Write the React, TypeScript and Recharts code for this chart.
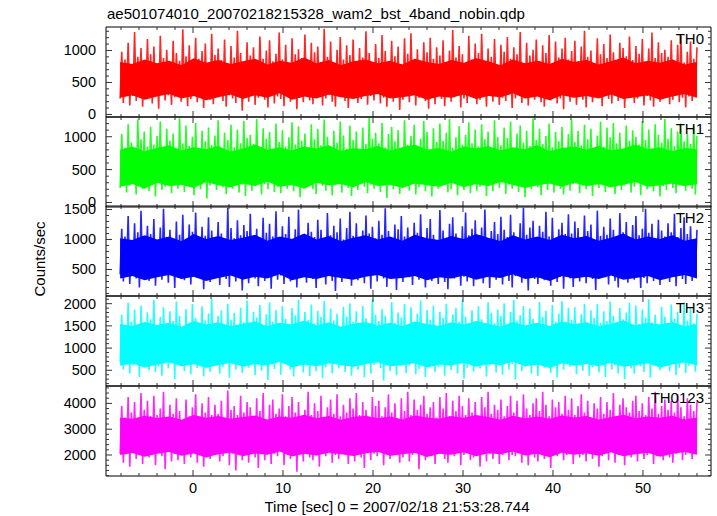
import React from "react";
import { ComposedChart, Line, Area, XAxis, YAxis } from "recharts";

const TITLE = "ae501074010_20070218215328_wam2_bst_4band_nobin.qdp";
const X_LABEL = "Time [sec] 0 = 2007/02/18 21:53:28.744";
const Y_LABEL = "Counts/sec";

// light curve bins run from -8.1 s to 56.0 s
const T_START = -8.1;
const T_END = 56.0;

const X_DOMAIN = [-9.67, 57.56];
const X_MAJOR = [0, 10, 20, 30, 40, 50];
const X_TICKS = [
  -8, -6, -4, -2, 0, 2, 4, 6, 8, 10, 12, 14, 16, 18, 20, 22, 24, 26, 28, 30,
  32, 34, 36, 38, 40, 42, 44, 46, 48, 50, 52, 54, 56,
];

// rate samples, read as alternating dips and spikes
const TH0 = [
  250, 980, 180, 860, 320, 1120, 140, 760, 290, 1290, 210, 900, 380, 1040, 120, 820, 260, 1180, 330, 940,
  170, 1060, 280, 790, 90, 1230, 350, 880, 220, 1010, 300, 720, 150, 1150, 270, 960, 410, 840, 200, 1330,
  310, 910, 130, 1080, 240, 770, 360, 1200, 190, 870, 280, 990, 100, 1110, 330, 800, 230, 1260, 160, 930,
  290, 1030, 370, 850, 210, 1170, 120, 740, 300, 1070, 250, 890, 180, 1310, 340, 960, 60, 810, 270, 1130,
  200, 920, 320, 1050, 150, 780, 260, 1220, 390, 870, 230, 1000, 110, 1160, 310, 830, 170, 950, 280, 1280,
  240, 860, 130, 1090, 350, 760, 200, 1190, 300, 940, 80, 1020, 260, 880, 190, 1250, 330, 790, 220, 1120,
  160, 970, 290, 1060, 370, 820, 140, 1340, 250, 900, 310, 1140, 200, 750, 120, 1010, 280, 1210, 340, 860,
  210, 1080, 100, 930, 270, 1170, 330, 800, 180, 1040, 240, 890, 400, 1300, 150, 960, 290, 770, 220, 1100,
  320, 880, 170, 1240, 260, 990, 120, 830, 350, 1150, 200, 910, 280, 1060, 70, 790, 230, 1190, 300, 950,
  190, 1270, 310, 850, 140, 1020, 260, 760, 380, 1130, 210, 970, 90, 1200, 290, 870, 160, 1050, 330, 920,
  240, 1160, 130, 810, 300, 1000, 200, 1320, 270, 890, 350, 1070, 110, 940, 250, 780, 180, 1230, 320, 860,
  280, 1110, 160, 960, 230, 1260, 340, 820, 120, 1030, 290, 900, 200, 1180, 370, 750, 150, 1090, 260, 980,
  210, 1210, 310, 870, 100, 1050, 250, 940, 330, 1290, 180, 800, 270, 1120, 140, 920, 300, 1010, 230, 1170,
  360, 840, 190, 1080, 120, 960, 280, 1240, 220, 790, 310, 1140, 170, 890, 250, 1030, 80, 1200, 340, 860,
  200, 990, 270, 1150, 150, 830, 320, 1060, 230, 1310, 110, 900, 290, 1000, 190, 770, 350, 1190, 260, 940,
  130, 1100, 300, 880, 240, 1250, 170, 970, 380, 820, 210, 1120, 280, 1040, 100, 910, 260, 1220, 320, 850,
  180, 1070, 250, 950, 340, 1180, 140, 790, 290, 1030, 220, 1280, 120, 880, 310, 1130, 200, 960, 270, 1010,
  350, 900, 160, 1160, 230, 840, 300, 1090, 190, 1230, 260, 810, 110, 980, 280, 1140, 210, 870, 320, 1050,
];

const TH1 = [
  220, 1040, 300, 830, 150, 1190, 260, 910, 350, 770, 120, 1260, 280, 960, 200, 1080, 330, 850, 170, 1150,
  270, 880, 90, 1010, 310, 1230, 190, 790, 240, 1120, 360, 940, 140, 1050, 290, 820, 210, 1280, 320, 900,
  160, 1170, 250, 860, 380, 1000, 110, 1210, 280, 780, 200, 1090, 330, 930, 60, 1140, 260, 870, 300, 1020,
  190, 1250, 340, 800, 230, 1060, 130, 950, 290, 1180, 210, 840, 370, 1110, 150, 900, 270, 1240, 100, 980,
  310, 1030, 180, 890, 250, 1270, 350, 760, 120, 1130, 280, 970, 200, 1070, 330, 810, 160, 1200, 240, 920,
  140, 1100, 300, 850, 210, 990, 380, 1220, 170, 880, 260, 1160, 80, 940, 320, 1050, 230, 790, 290, 1190,
  200, 960, 130, 1120, 340, 870, 250, 1260, 180, 1000, 310, 830, 110, 1090, 270, 910, 360, 1230, 150, 1020,
  280, 820, 220, 1170, 100, 950, 300, 1080, 190, 780, 350, 1140, 240, 890, 140, 1290, 270, 970, 210, 1060,
  330, 900, 160, 1210, 260, 840, 70, 1040, 290, 1150, 200, 930, 320, 1100, 130, 800, 250, 1250, 360, 880,
  180, 1010, 280, 1180, 120, 860, 230, 970, 340, 1240, 170, 1070, 300, 810, 90, 1130, 260, 920, 210, 1200,
  250, 940, 350, 1060, 150, 1270, 200, 830, 310, 990, 110, 1160, 270, 880, 190, 1030, 380, 1220, 140, 900,
  290, 1110, 180, 850, 240, 1190, 330, 960, 100, 1080, 260, 790, 170, 1250, 300, 1000, 220, 870, 350, 1140,
  130, 980, 270, 1230, 210, 820, 320, 1050, 160, 1170, 240, 910, 80, 1090, 290, 860, 200, 1280, 340, 950,
  230, 1120, 110, 890, 300, 1010, 190, 1200, 360, 840, 150, 1070, 260, 930, 210, 1150, 120, 800, 310, 1040,
  180, 1260, 280, 920, 340, 1090, 140, 870, 250, 1180, 200, 960, 330, 1120, 100, 830, 270, 1020, 220, 1230,
  300, 850, 160, 1140, 230, 990, 370, 1210, 130, 900, 290, 1060, 190, 780, 260, 1170, 320, 940, 150, 1100,
  240, 1000, 350, 880, 110, 1240, 270, 950, 200, 1110, 310, 820, 170, 1190, 280, 1030, 90, 910, 250, 1270,
  190, 970, 300, 1130, 220, 860, 140, 1080, 330, 1200, 260, 930, 180, 1050, 350, 890, 210, 1160, 120, 1010,
];

const TH2 = [
  420, 1180, 300, 1050, 510, 1390, 260, 980, 450, 1270, 350, 1120, 200, 1480, 390, 1010, 540, 1230, 310, 1090,
  480, 1340, 230, 960, 400, 1200, 330, 1510, 560, 1040, 280, 1160, 440, 920, 190, 1300, 370, 1080, 500, 1410,
  320, 1000, 470, 1250, 250, 1130, 410, 1450, 360, 970, 530, 1210, 170, 1060, 430, 1370, 290, 1150, 380, 990,
  520, 1290, 240, 1100, 460, 940, 340, 1530, 210, 1190, 410, 1020, 300, 1320, 490, 1070, 150, 1240, 390, 1140,
  270, 1430, 450, 1030, 350, 1180, 220, 980, 510, 1360, 310, 1110, 420, 1260, 180, 1050, 470, 1470, 330, 950,
  400, 1220, 260, 1090, 550, 1380, 300, 1010, 440, 1170, 200, 1500, 370, 1080, 480, 930, 280, 1280, 420, 1130,
  340, 1040, 190, 1330, 460, 1160, 390, 990, 250, 1440, 530, 1070, 310, 1230, 140, 1120, 430, 1350, 290, 1000,
  500, 1190, 360, 1460, 230, 1060, 410, 1270, 320, 960, 470, 1150, 270, 1400, 390, 1100, 180, 1210, 540, 1020,
  300, 1310, 440, 1080, 350, 1520, 210, 1140, 480, 990, 380, 1250, 160, 1170, 420, 1390, 290, 1050, 510, 1200,
  370, 970, 240, 1280, 450, 1110, 330, 1420, 520, 1030, 200, 1190, 400, 1340, 310, 1080, 460, 940, 260, 1490,
  410, 1150, 290, 1030, 170, 1260, 490, 1370, 350, 1100, 430, 980, 230, 1220, 380, 1450, 300, 1070, 470, 1180,
  220, 1320, 400, 1060, 360, 1200, 270, 1500, 440, 1010, 190, 1140, 510, 1290, 330, 1090, 420, 1380, 250, 1160,
  480, 1040, 310, 1410, 200, 1120, 390, 960, 460, 1270, 280, 1530, 370, 1080, 150, 1200, 430, 1310, 340, 1020,
  260, 1230, 500, 1130, 320, 1460, 410, 1050, 230, 1360, 450, 990, 290, 1170, 380, 1280, 180, 1090, 470, 1420,
  350, 1100, 210, 1300, 440, 1190, 300, 1010, 520, 1400, 270, 1140, 400, 1250, 340, 970, 160, 1480, 420, 1060,
  490, 1210, 370, 1080, 250, 1350, 430, 1160, 310, 1030, 200, 1440, 460, 1120, 390, 1290, 280, 1000, 500, 1240,
  330, 1390, 420, 1070, 190, 1180, 360, 1510, 270, 1110, 480, 1260, 310, 950, 440, 1330, 240, 1150, 370, 1050,
  450, 1270, 290, 1120, 400, 1430, 220, 1040, 510, 1190, 340, 1370, 260, 1090, 430, 1220, 310, 1000, 380, 1160,
];

const TH3 = [
  680, 1750, 520, 1480, 790, 2020, 430, 1590, 610, 1870, 740, 1420, 350, 1960, 660, 1550, 820, 1800, 500, 1650,
  720, 2090, 460, 1510, 590, 1700, 380, 1920, 810, 1450, 540, 1830, 670, 1610, 300, 2050, 620, 1730, 760, 1390,
  480, 1880, 700, 1570, 410, 1990, 630, 1680, 550, 1440, 840, 1940, 360, 1620, 690, 1780, 470, 2110, 600, 1520,
  770, 1720, 420, 1850, 580, 1470, 710, 2000, 330, 1640, 650, 1790, 520, 1360, 800, 1910, 440, 1580, 690, 2070,
  560, 1500, 740, 1820, 390, 1690, 610, 1970, 490, 1430, 780, 1760, 280, 2030, 640, 1600, 530, 1860, 720, 1540,
  400, 1950, 670, 1660, 820, 1410, 510, 1900, 360, 1740, 600, 2080, 750, 1530, 450, 1810, 700, 1630, 370, 1980,
  630, 1560, 480, 1840, 790, 1700, 320, 2060, 570, 1480, 710, 1890, 430, 1620, 660, 1770, 540, 1400, 810, 1930,
  460, 1710, 600, 2010, 380, 1590, 740, 1830, 510, 1460, 680, 1950, 340, 1670, 770, 1520, 420, 2100, 620, 1750,
  730, 1610, 550, 1880, 270, 1730, 650, 1420, 480, 2040, 800, 1570, 390, 1800, 610, 1690, 700, 1990, 440, 1500,
  590, 1920, 760, 1550, 410, 1780, 530, 2070, 690, 1450, 350, 1860, 640, 1640, 780, 1960, 460, 1370, 570, 1820,
  710, 1680, 380, 2000, 620, 1510, 500, 1760, 830, 1900, 430, 1590, 680, 2090, 310, 1710, 560, 1470, 740, 1850,
  470, 1580, 650, 1940, 540, 1650, 720, 1430, 360, 2030, 610, 1790, 790, 1560, 450, 1870, 680, 1720, 400, 2010,
  760, 1490, 520, 1810, 640, 2080, 290, 1620, 700, 1740, 480, 1950, 580, 1410, 810, 1890, 420, 1660, 630, 1530,
  370, 2040, 690, 1700, 560, 1840, 750, 1480, 440, 1970, 600, 1600, 340, 1780, 720, 2060, 510, 1550, 660, 1910,
  580, 1640, 800, 1920, 410, 1520, 630, 1760, 490, 2000, 710, 1440, 380, 1850, 570, 1680, 770, 1990, 450, 1570,
  690, 1830, 350, 1610, 740, 2050, 520, 1730, 610, 1460, 430, 1900, 800, 1650, 300, 1800, 660, 2020, 540, 1500,
  420, 1960, 700, 1540, 590, 1870, 460, 1690, 780, 2100, 330, 1580, 640, 1750, 720, 1430, 500, 1930, 610, 1710,
  750, 1520, 480, 1980, 650, 1660, 390, 1820, 560, 1450, 820, 2030, 440, 1620, 600, 1890, 710, 1560, 470, 1770,
];

const TH0123 = [
  2050, 3900, 1700, 3450, 2250, 4250, 1550, 3650, 2150, 4050, 1850, 3350, 2350, 4400, 1650, 3750, 2000, 4100, 1900, 3500,
  2200, 4300, 1600, 3550, 2100, 3800, 1950, 4450, 1450, 3400, 2300, 3950, 1750, 3600, 2050, 4200, 1800, 3700, 2250, 3300,
  1650, 4150, 2150, 3500, 1900, 3850, 2400, 4350, 1700, 3450, 2000, 4000, 1550, 3650, 2200, 4250, 1850, 3550, 2100, 3950,
  2300, 3600, 1750, 4100, 1950, 3400, 2150, 4500, 1600, 3750, 2050, 3900, 1400, 3550, 2250, 4300, 1800, 3650, 2000, 4050,
  1700, 3850, 2200, 3450, 1900, 4200, 1500, 3700, 2350, 4400, 1800, 3350, 2100, 3950, 1650, 4150, 2050, 3600, 1950, 3800,
  2250, 4350, 1600, 3500, 2000, 3900, 1850, 4250, 2150, 3650, 1350, 4050, 2300, 3450, 1750, 3750, 2100, 4450, 1900, 3550,
  1800, 4000, 2200, 3700, 1550, 4300, 2050, 3400, 1950, 3850, 2350, 4150, 1700, 3600, 2000, 4350, 1850, 3500, 2250, 3950,
  2100, 3650, 1650, 4200, 2300, 3800, 1750, 4400, 2000, 3550, 1900, 4050, 1500, 3750, 2200, 3450, 1800, 4250, 2050, 3900,
  1950, 4100, 2250, 3500, 1600, 3850, 2150, 4350, 1850, 3650, 2050, 4000, 2350, 3400, 1700, 4200, 1900, 3700, 2100, 4450,
  1750, 3550, 2000, 4150, 2200, 3750, 1450, 3950, 2100, 4300, 1800, 3600, 2300, 3850, 1950, 4050, 1650, 3450, 2150, 4250,
  2050, 3800, 1850, 4400, 1700, 3500, 2250, 4100, 1950, 3700, 2150, 4300, 1600, 3900, 2000, 3550, 2300, 4200, 1800, 3650,
  1900, 4050, 2100, 3450, 1550, 4250, 2200, 3850, 1750, 4450, 2050, 3600, 1850, 3950, 2350, 3750, 1650, 4150, 2000, 3500,
  2250, 3900, 1800, 4300, 2000, 3650, 1950, 4100, 2150, 3400, 1700, 4350, 2300, 3800, 1600, 3550, 2100, 4000, 1900, 4200,
  1750, 3700, 2200, 4450, 1850, 3950, 2050, 3500, 1500, 4150, 2250, 3850, 1950, 4050, 2100, 3600, 1800, 4300, 2000, 3750,
  2150, 4200, 1650, 3550, 2300, 3900, 1900, 4350, 2000, 3650, 1750, 4100, 2200, 3450, 1850, 4000, 2050, 3800, 1550, 4250,
  1950, 3600, 2100, 4050, 1800, 3750, 2250, 4400, 1700, 3500, 2000, 3950, 2350, 4200, 1600, 3850, 2150, 3650, 1900, 4100,
  2050, 4300, 1750, 3700, 2200, 4000, 1850, 3550, 2000, 4250, 2300, 3800, 1650, 4450, 1950, 3600, 2100, 3900, 1800, 4150,
  2250, 3750, 1900, 4100, 1700, 3650, 2050, 4350, 2150, 3850, 1800, 3500, 2000, 4200, 2300, 3950, 1850, 3700, 2100, 4050,
];

// dense core of each band (where the unbinned samples overlap into a solid fill)
const TH0_LO = [
  260, 300, 230, 280, 320, 250, 290, 220, 270, 310, 240, 300, 260, 330, 230, 280, 250, 310, 270, 240, 290, 320, 250, 270,
  300, 230, 280, 260, 310, 240, 290, 270, 330, 250, 280, 220, 300, 260, 290, 250, 310, 240, 270, 300, 230, 280, 320, 260,
];
const TH0_HI = [
  820, 790, 860, 800, 840, 770, 880, 810, 850, 790, 830, 870, 780, 840, 810, 890, 800, 850, 770, 830, 860, 800, 840, 780,
  870, 820, 790, 850, 810, 880, 830, 770, 860, 800, 840, 790, 870, 820, 850, 780, 830, 890, 800, 840, 810, 860, 780, 820,
];
const TH1_LO = [
  240, 280, 210, 300, 250, 270, 220, 310, 260, 230, 290, 250, 320, 240, 270, 210, 300, 260, 280, 230, 310, 250, 270, 220,
  290, 260, 240, 300, 230, 280, 250, 310, 270, 220, 260, 290, 240, 300, 250, 280, 230, 270, 310, 240, 260, 290, 250, 280,
];
const TH1_HI = [
  800, 850, 780, 830, 870, 790, 840, 810, 860, 770, 820, 880, 800, 840, 790, 850, 820, 870, 780, 830, 810, 860, 790, 840,
  880, 800, 830, 770, 850, 820, 860, 790, 840, 810, 870, 780, 830, 850, 800, 860, 790, 820, 880, 810, 840, 780, 830, 810,
];
const TH2_LO = [
  350, 390, 320, 370, 410, 340, 380, 310, 360, 400, 330, 380, 350, 420, 320, 370, 340, 390, 360, 330, 380, 410, 340, 360,
  390, 320, 370, 350, 400, 330, 380, 360, 420, 340, 370, 310, 390, 350, 380, 340, 400, 330, 360, 390, 320, 370, 410, 350,
];
const TH2_HI = [
  1020, 990, 1070, 1000, 1050, 970, 1090, 1010, 1060, 990, 1030, 1080, 980, 1050, 1010, 1100, 1000, 1060, 970, 1030, 1070, 1000, 1050, 980,
  1080, 1020, 990, 1060, 1010, 1090, 1030, 970, 1070, 1000, 1050, 990, 1080, 1020, 1060, 980, 1030, 1100, 1000, 1050, 1010, 1070, 980, 1020,
];
const TH3_LO = [
  600, 650, 560, 630, 680, 590, 640, 550, 620, 670, 580, 640, 610, 690, 570, 630, 590, 660, 620, 580, 640, 680, 590, 620,
  660, 560, 630, 610, 670, 580, 640, 620, 690, 590, 630, 550, 660, 610, 640, 590, 670, 580, 620, 660, 560, 630, 680, 610,
];
const TH3_HI = [
  1540, 1500, 1590, 1520, 1570, 1480, 1610, 1530, 1580, 1500, 1550, 1600, 1490, 1570, 1530, 1620, 1510, 1580, 1480, 1550, 1590, 1510, 1570, 1490,
  1600, 1540, 1500, 1580, 1530, 1610, 1550, 1480, 1590, 1510, 1570, 1500, 1600, 1540, 1580, 1490, 1550, 1620, 1510, 1570, 1530, 1590, 1490, 1540,
];
const TH0123_LO = [
  2000, 2080, 1930, 2050, 2120, 1970, 2060, 1900, 2030, 2100, 1950, 2060, 2010, 2140, 1940, 2050, 1980, 2090, 2030, 1960, 2070, 2130, 1970, 2030,
  2090, 1920, 2050, 2010, 2110, 1950, 2070, 2030, 2140, 1980, 2050, 1910, 2090, 2010, 2070, 1970, 2110, 1950, 2030, 2090, 1930, 2050, 2120, 2010,
];
const TH0123_HI = [
  3450, 3400, 3520, 3430, 3490, 3370, 3550, 3440, 3510, 3400, 3470, 3530, 3380, 3490, 3440, 3560, 3420, 3510, 3370, 3470, 3520, 3420, 3490, 3380,
  3530, 3450, 3400, 3510, 3440, 3550, 3470, 3370, 3520, 3420, 3490, 3400, 3530, 3450, 3510, 3380, 3470, 3560, 3420, 3490, 3440, 3520, 3380, 3450,
];

const PANELS = [
  {
    name: "TH0", color: "#ff0000", values: TH0, lo: TH0_LO, hi: TH0_HI, top: 27, domain: [-40, 1367],
    major: [0, 500, 1000],
    ticks: [0, 100, 200, 300, 400, 500, 600, 700, 800, 900, 1000, 1100, 1200, 1300],
  },
  {
    name: "TH1", color: "#00ff00", values: TH1, lo: TH1_LO, hi: TH1_HI, top: 117, domain: [-69, 1300],
    major: [0, 500, 1000],
    ticks: [0, 100, 200, 300, 400, 500, 600, 700, 800, 900, 1000, 1100, 1200],
  },
  {
    name: "TH2", color: "#0000ff", values: TH2, lo: TH2_LO, hi: TH2_HI, top: 206, domain: [58, 1558],
    major: [500, 1000, 1500],
    ticks: [100, 200, 300, 400, 500, 600, 700, 800, 900, 1000, 1100, 1200, 1300, 1400, 1500],
  },
  {
    name: "TH3", color: "#00ffff", values: TH3, lo: TH3_LO, hi: TH3_HI, top: 296, domain: [146, 2173],
    major: [500, 1000, 1500, 2000],
    ticks: [200, 300, 400, 500, 600, 700, 800, 900, 1000, 1100, 1200, 1300, 1400, 1500, 1600, 1700, 1800, 1900, 2000, 2100],
  },
  {
    name: "TH0123", color: "#ff00ff", values: TH0123, lo: TH0123_LO, hi: TH0123_HI, top: 386, domain: [1186, 4674],
    major: [2000, 3000, 4000],
    ticks: [1200, 1400, 1600, 1800, 2000, 2200, 2400, 2600, 2800, 3000, 3200, 3400, 3600, 3800, 4000, 4200, 4400, 4600],
  },
];

const W = 717;
const H = 516;
const PLOT_LEFT = 106;
const PLOT_RIGHT = 711;
const PANEL_H = 90;
const PAD_TOP = 8;
const Y_AXIS_W = 60;
const FONT = '"Liberation Sans", Arial, Helvetica, sans-serif';
const TICK_COLOR = "#333";

function timeAt(i: number, n: number) {
  return T_START + (i * (T_END - T_START)) / (n - 1);
}

function xTick(edge: number, dir: number, showLabel: boolean) {
  return (props: any) => {
    const { x, payload } = props;
    const v = payload.value;
    const major = X_MAJOR.includes(v);
    const len = major ? 6 : 3;
    return (
      <g>
        <line x1={x} x2={x} y1={edge} y2={edge + dir * len} stroke={TICK_COLOR} />
        {showLabel && major ? (
          <text x={x} y={edge + 17} textAnchor="middle" fontSize={14.5} fontFamily={FONT} fill="#000">
            {v}
          </text>
        ) : null}
      </g>
    );
  };
}

function yTick(edge: number, dir: number, major: number[], showLabel: boolean) {
  return (props: any) => {
    const { y, payload } = props;
    const v = payload.value;
    const isMajor = major.includes(v);
    const len = isMajor ? 6 : 3;
    return (
      <g>
        <line x1={edge} x2={edge + dir * len} y1={y} y2={y} stroke={TICK_COLOR} />
        {showLabel && isMajor ? (
          <text x={edge - 10} y={y + 5} textAnchor="end" fontSize={14.5} fontFamily={FONT} fill="#000">
            {v}
          </text>
        ) : null}
      </g>
    );
  };
}

function Panel({ p, last }: { p: (typeof PANELS)[number]; last: boolean }) {
  const padBottom = last ? 26 : 8;
  const height = PAD_TOP + PANEL_H + padBottom;
  const plotTop = PAD_TOP;
  const plotBottom = PAD_TOP + PANEL_H;
  const lineData = p.values.map((v, i) => ({ t: timeAt(i, p.values.length), v }));
  const coreData = p.lo.map((lo, i) => ({ t: timeAt(i, p.lo.length), core: [lo, p.hi[i]] }));

  return (
    <div style={{ position: "absolute", left: 0, top: p.top - PAD_TOP }}>
      <ComposedChart
        width={W}
        height={height}
        margin={{ top: 0, bottom: 0, left: PLOT_LEFT - Y_AXIS_W, right: W - PLOT_RIGHT - 2 }}
      >
        <XAxis
          xAxisId="b"
          dataKey="t"
          type="number"
          domain={X_DOMAIN}
          ticks={X_TICKS}
          interval={0}
          allowDataOverflow
          height={padBottom}
          tickLine={false}
          axisLine={{ stroke: "#000" }}
          tick={xTick(plotBottom, -1, last)}
        />
        <XAxis
          xAxisId="t"
          orientation="top"
          dataKey="t"
          type="number"
          domain={X_DOMAIN}
          ticks={X_TICKS}
          interval={0}
          allowDataOverflow
          height={PAD_TOP}
          tickLine={false}
          axisLine={{ stroke: "#000" }}
          tick={xTick(plotTop, 1, false)}
        />
        <YAxis
          yAxisId="l"
          domain={p.domain}
          ticks={p.ticks}
          interval={0}
          allowDataOverflow
          width={Y_AXIS_W}
          tickLine={false}
          axisLine={{ stroke: "#000" }}
          tick={yTick(PLOT_LEFT, 1, p.major, true)}
        />
        <YAxis
          yAxisId="r"
          orientation="right"
          domain={p.domain}
          ticks={p.ticks}
          interval={0}
          allowDataOverflow
          width={2}
          tickLine={false}
          axisLine={{ stroke: "#000" }}
          tick={yTick(PLOT_RIGHT, -1, p.major, false)}
        />
        <Area
          xAxisId="b"
          yAxisId="l"
          data={coreData}
          type="linear"
          dataKey="core"
          stroke="none"
          fill={p.color}
          fillOpacity={1}
          dot={false}
          activeDot={false}
          isAnimationActive={false}
        />
        <Line
          xAxisId="b"
          yAxisId="l"
          data={lineData}
          type="linear"
          dataKey="v"
          stroke={p.color}
          strokeOpacity={0.85}
          strokeWidth={1.6}
          dot={false}
          activeDot={false}
          isAnimationActive={false}
        />
      </ComposedChart>
    </div>
  );
}

export default function App() {
  return (
    <div
      style={{
        position: "absolute",
        left: 0,
        top: 0,
        width: W,
        height: H,
        background: "#fff",
        fontFamily: FONT,
      }}
    >
      {PANELS.map((p, i) => (
        <Panel key={p.name} p={p} last={i === PANELS.length - 1} />
      ))}
      <svg
        width={W}
        height={H}
        style={{ position: "absolute", left: 0, top: 0, pointerEvents: "none" }}
      >
        <text x={107} y={19} fontSize={15} fontFamily={FONT} fill="#000">
          {TITLE}
        </text>
        {PANELS.map((p) => (
          <text
            key={p.name}
            x={704}
            y={p.top + 17}
            textAnchor="end"
            fontSize={15}
            fontFamily={FONT}
            fill="#000"
          >
            {p.name}
          </text>
        ))}
        <text x={397} y={512} textAnchor="middle" fontSize={15} fontFamily={FONT} fill="#000">
          {X_LABEL}
        </text>
        <text
          x={45}
          y={259}
          textAnchor="middle"
          fontSize={15}
          fontFamily={FONT}
          fill="#000"
          transform="rotate(-90 45 259)"
        >
          {Y_LABEL}
        </text>
      </svg>
    </div>
  );
}
